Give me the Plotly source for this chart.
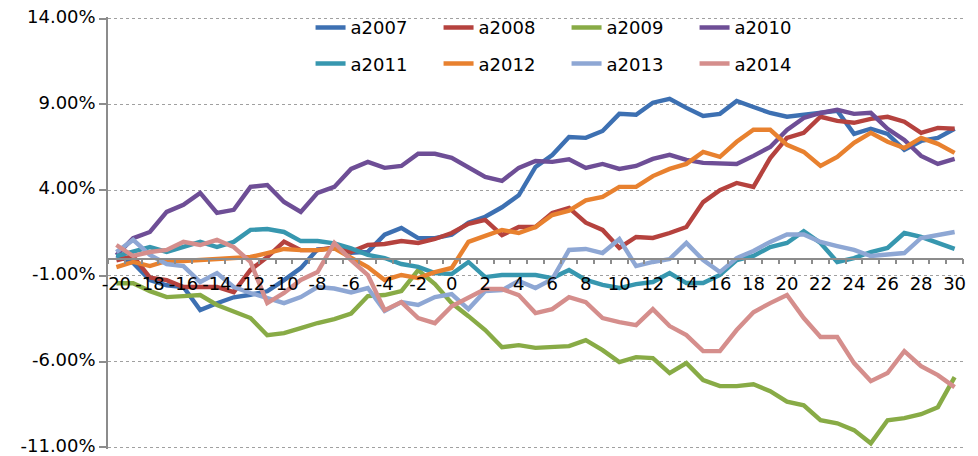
import plotly.graph_objects as go

x_vals = list(range(-20, 31))

a2007 = [0.2, -0.25, -1.25, -1.55, -1.65, -3.0, -2.6, -2.25, -2.1, -1.9, -1.25, -0.55, 0.55, 0.6, 0.35,
         0.4, 1.4, 1.8, 1.2, 1.2, 1.4, 2.1, 2.45, 3.0, 3.7, 5.35, 6.05, 7.1, 7.05,
         7.45, 8.45, 8.4, 9.1, 9.33, 8.8, 8.33, 8.45, 9.2, 8.85,
         8.5, 8.28, 8.4, 8.57, 8.63, 7.28, 7.58, 7.28, 6.35, 6.87, 7.05, 7.58]
a2008 = [-0.1, 0.15, -1.1, -1.25, -1.65, -1.65, -1.65, -1.95, -0.65, 0.1, 1.0, 0.5, 0.5, 0.65, 0.4,
         0.8, 0.86, 1.03, 0.92, 1.15, 1.5, 2.03, 2.26, 1.38, 1.85, 1.85, 2.67, 2.96, 2.1,
         1.68, 0.63, 1.27, 1.21, 1.5, 1.85, 3.3, 4.0, 4.42, 4.19,
         5.87, 7.05, 7.34, 8.28, 8.04, 7.93, 8.16, 8.28, 7.99, 7.34, 7.63, 7.58]
a2009 = [-1.43, -1.43, -1.89, -2.24, -2.18, -2.12, -2.7, -3.05, -3.46, -4.46, -4.34, -4.05, -3.75, -3.52, -3.2,
         -2.18, -2.12, -1.89, -0.66, -1.48, -2.59, -3.35, -4.16, -5.16, -5.04, -5.2, -5.16, -5.1, -4.75,
         -5.33, -6.03, -5.74, -5.8, -6.67, -6.09, -7.08, -7.43, -7.43, -7.32,
         -7.73, -8.34, -8.55, -9.42, -9.6, -10.0, -10.77, -9.42, -9.3, -9.07, -8.66, -6.91]
a2010 = [0.2, 1.2, 1.56, 2.73, 3.14, 3.84, 2.67, 2.85, 4.19, 4.3, 3.31, 2.73, 3.84, 4.19, 5.24,
         5.65, 5.3, 5.41, 6.12, 6.12, 5.88, 5.3, 4.77, 4.54, 5.3, 5.7, 5.65, 5.8, 5.3,
         5.53, 5.24, 5.41, 5.82, 6.06, 5.77, 5.59, 5.59, 5.53, 6.0,
         6.52, 7.51, 8.21, 8.5, 8.69, 8.45, 8.51, 7.58, 6.93, 6.0, 5.53, 5.82]
a2011 = [0.15, 0.4, 0.68, 0.4, 0.68, 0.98, 0.68, 0.98, 1.68, 1.73, 1.56, 1.03, 1.03, 0.9, 0.6,
         0.22, 0.04, -0.31, -0.48, -0.84, -0.89, -0.19, -1.07, -0.95, -0.95, -0.95, -1.13, -0.66, -1.24,
         -1.53, -1.71, -1.48, -1.36, -0.84, -1.42, -1.42, -0.95, -0.08, 0.16,
         0.68, 0.92, 1.6, 0.92, -0.19, 0.04, 0.39, 0.63, 1.5, 1.27, 0.92, 0.57]
a2012 = [-0.49, -0.19, -0.43, -0.13, -0.13, -0.08, -0.02, 0.04, 0.1, 0.33, 0.57, 0.5, 0.5, 0.6, 0.05,
         -0.49, -1.24, -0.95, -1.13, -0.78, -0.54, 0.98, 1.33, 1.68, 1.5, 1.85, 2.55, 2.8, 3.4,
         3.6, 4.19, 4.19, 4.82, 5.24, 5.53, 6.23, 5.94, 6.82, 7.52,
         7.52, 6.64, 6.23, 5.41, 5.94, 6.76, 7.34, 6.82, 6.46, 7.05, 6.7, 6.17]
a2013 = [0.39, 1.1, 0.22, -0.31, -0.43, -1.36, -0.84, -1.65, -2.0, -2.3, -2.59, -2.24, -1.65, -1.74, -1.97,
         -1.71, -3.05, -2.53, -2.7, -2.24, -2.06, -2.94, -1.88, -1.83, -1.3, -1.71, -1.19, 0.51, 0.57,
         0.33, 1.15, -0.43, -0.19, -0.02, 0.92, -0.08, -0.78, 0.04, 0.45,
         0.98, 1.41, 1.41, 0.98, 0.74, 0.51, 0.16, 0.27, 0.33, 1.21, 1.38, 1.56]
a2014 = [0.8, 0.16, 0.39, 0.51, 0.98, 0.8, 1.1, 0.68, -0.19, -2.59, -2.0, -1.24, -0.78, 0.92, -0.08,
         -0.95, -3.0, -2.53, -3.46, -3.76, -2.77, -2.3, -1.77, -1.77, -2.12, -3.17, -2.94, -2.24, -2.53,
         -3.46, -3.7, -3.87, -2.94, -3.93, -4.46, -5.39, -5.39, -4.16, -3.12,
         -2.59, -2.12, -3.46, -4.57, -4.57, -6.09, -7.14, -6.67, -5.39, -6.27, -6.79, -7.49]

series_names = ["a2007", "a2008", "a2009", "a2010", "a2011", "a2012", "a2013", "a2014"]
series_values = [a2007, a2008, a2009, a2010, a2011, a2012, a2013, a2014]
series_colors = ["#3D70B2", "#B5423E", "#88AB46", "#6E4E96", "#3797AF", "#E8812F", "#8EA7D4", "#D58E8C"]

x_tickvals = list(range(-20, 31, 2))
x_ticktext = [str(v) for v in x_tickvals]
y_tickvals = [-11, -6, -1, 4, 9, 14]
y_ticktext = ["-11.00%", "-6.00%", "-1.00%", "4.00%", "9.00%", "14.00%"]

# axis range padded slightly so the end gridlines are drawn
y_min, y_max = -11.1, 14.1
font_family = "DejaVu Sans"

H = 456
px_per_unit = 428 / 25.0
m_top = 19 - (y_max - 14) * px_per_unit
m_bot = 9 - (-11 - y_min) * px_per_unit
plot_h = H - m_top - m_bot


def paper_y(py):
    return 1 - (py - m_top) / plot_h


fig = go.Figure()
for i, (name, vals, col) in enumerate(zip(series_names, series_values, series_colors)):
    fig.add_trace(go.Scatter(
        x=x_vals, y=vals, name=name, mode="lines",
        line=dict(color=col, width=4.4),
        legend="legend" if i < 4 else "legend2",
    ))

axis_gray = "#8C8C8C"
legend_x = 0.2217 + 13 / 855
fig.update_layout(
    width=978, height=H,
    margin=dict(l=108, r=15, t=m_top, b=m_bot),
    paper_bgcolor="white", plot_bgcolor="white",
    font=dict(family=font_family, size=18, color="#000000"),
    xaxis=dict(
        range=[-20.5, 30.5],
        anchor="free",
        position=(0 - y_min) / (y_max - y_min),
        automargin=False,
        showline=True, linecolor=axis_gray, linewidth=1.5,
        showgrid=False, zeroline=False,
        tickmode="array", tickvals=x_tickvals, ticktext=x_ticktext,
        ticks="", ticklabelstandoff=9,
        tickfont=dict(size=18, family=font_family, color="#000000"),
        minor=dict(tick0=-20.5, dtick=1, ticks="outside", ticklen=5, tickcolor=axis_gray, tickwidth=1.5, showgrid=False),
    ),
    yaxis=dict(
        range=[y_min, y_max],
        automargin=False,
        showline=True, linecolor=axis_gray, linewidth=1.5,
        showgrid=True, gridcolor="#A0A0A0", gridwidth=1, griddash="dot",
        zeroline=False,
        tickmode="array", tickvals=y_tickvals, ticktext=y_ticktext,
        ticks="outside", ticklen=7, tickcolor=axis_gray, tickwidth=1.5,
        ticklabeloverflow="allow", ticklabelshift=-2,
        tickfont=dict(size=18, family=font_family, color="#000000"),
    ),
    legend=dict(
        orientation="h", x=legend_x, xanchor="left", y=paper_y(28), yanchor="middle",
        bgcolor="rgba(255,255,255,0)", entrywidth=83, entrywidthmode="pixels",
        font=dict(size=18, family=font_family, color="#000000"),
    ),
    legend2=dict(
        orientation="h", x=legend_x, xanchor="left", y=paper_y(64), yanchor="middle",
        bgcolor="rgba(255,255,255,0)", entrywidth=83, entrywidthmode="pixels",
        font=dict(size=18, family=font_family, color="#000000"),
    ),
    showlegend=True,
)

fig.write_html("out.html", config={"displayModeBar": False},
               post_script="document.body.style.margin='0';")
